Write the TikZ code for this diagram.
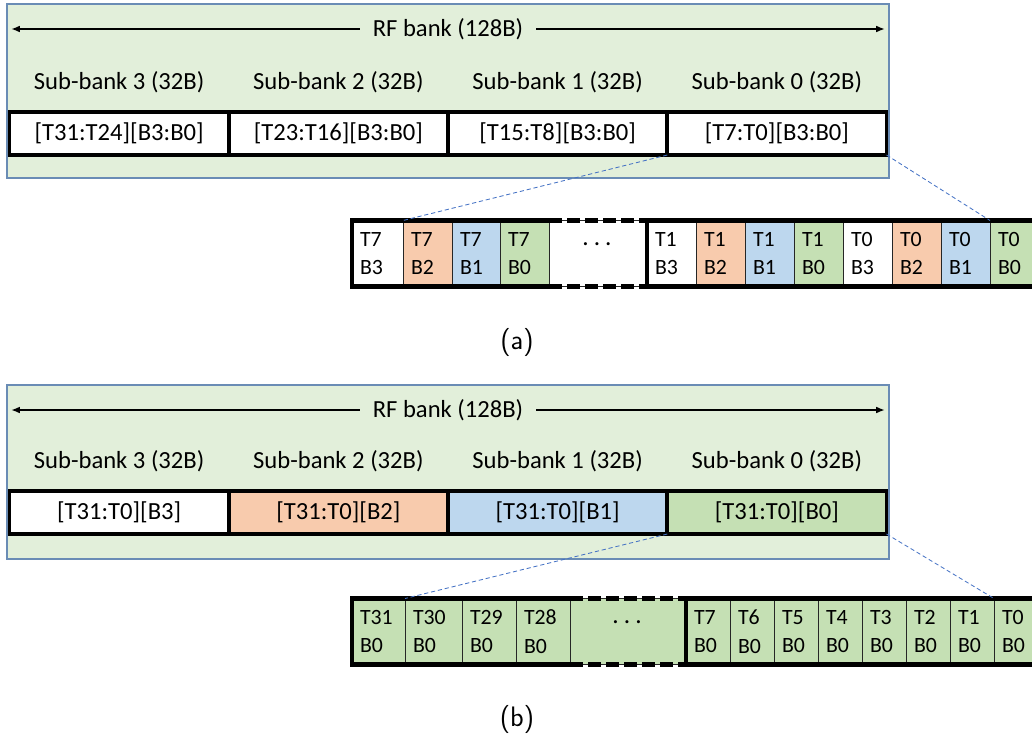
\documentclass[tikz,border=0pt]{standalone}
\usepackage{fontspec}
\setmainfont{Carlito}
\usetikzlibrary{positioning, arrows.meta}

\definecolor{bankgreen}{HTML}{E2EFDA}
\definecolor{panelline}{HTML}{6A8CB5}
\definecolor{cellorange}{HTML}{F8CBAD}
\definecolor{cellblue}{HTML}{BDD7EE}
\definecolor{cellgreen}{HTML}{C5E0B4}
\definecolor{zoomblue}{HTML}{4472C4}

\tikzset{
    panel/.style={draw=panelline, line width=0.8pt, fill=bankgreen},
    banktext/.style={font=\fontsize{17.5}{20}\selectfont, inner xsep=0.33cm, outer sep=0},
    bankarrow/.style={line width=1.4pt, -{Latex[length=0.22cm, width=0.17cm]}},
    sublabel/.style={font=\fontsize{17.5}{20}\selectfont},
    subbox/.style={draw, line width=2.8pt, minimum width=5.48cm, minimum height=1.075cm,
        inner sep=0, outer sep=0, anchor=north west, font=\fontsize{17.5}{20}\selectfont},
    cell/.style={draw=black!85, line width=0.6pt, minimum height=1.65cm, inner xsep=0.2cm,
        inner ysep=0, outer sep=0, anchor=north west, align=left,
        font=\fontsize{15.5}{20.5}\selectfont},
    frame/.style={line width=3pt},
    dashframe/.style={line width=3pt, dash pattern=on 0.33cm off 0.12cm},
    zoomline/.style={draw=zoomblue, line width=0.6pt, dash pattern=on 3pt off 2pt},
    caption/.style={font=\fontsize{20}{24}\sffamily}
}

\newcommand{\celldots}{\smash{\raisebox{0.2cm}{\fontsize{18}{20}\selectfont .\hspace{0.2em}.\hspace{0.2em}.}}}

\begin{document}
\begin{tikzpicture}[x=0.025cm, y=-0.025cm]
    \useasboundingbox (0,0) rectangle (1032,736);
    \clip (0,0) rectangle (1032,736);

    % (a) thread-major layout
    \draw[panel] (7,4) rectangle (889,178);
    \node[banktext] (rfa) at (448,29) {RF bank (128B)};
    \coordinate (rfaL) at (11,29);
    \coordinate (rfaR) at (885,29);
    \draw[bankarrow] (rfa) -- (rfaL);
    \draw[bankarrow] (rfa) -- (rfaR);

    \foreach \i/\txt in {3/{[T31:T24][B3:B0]}, 2/{[T23:T16][B3:B0]},
                         1/{[T15:T8][B3:B0]}, 0/{[T7:T0][B3:B0]}} {
        \pgfmathsetmacro\bx{9.5+(3-\i)*219.25}
        \node[subbox, fill=white] (sa\i) at (\bx,112) {\txt};
        \node[sublabel, above=0.56cm of sa\i, anchor=base] (la\i) {Sub-bank \i{} (32B)};
    }

    \foreach \nm/\xa/\xb/\col/\tn/\bn in {
        ca1/352/403/white/T7/B3, ca2/403/452/cellorange/T7/B2,
        ca3/452/500/cellblue/T7/B1, ca4/500/549/cellgreen/T7/B0,
        ca6/647/696/white/T1/B3, ca7/696/745/cellorange/T1/B2,
        ca8/745/794/cellblue/T1/B1, ca9/794/843/cellgreen/T1/B0,
        ca10/843/892/white/T0/B3, ca11/892/941/cellorange/T0/B2,
        ca12/941/990/cellblue/T0/B1, ca13/990/1039/cellgreen/T0/B0} {
        \pgfmathsetmacro\tw{(\xb-\xa)*0.025-0.4}
        \node[cell, fill=\col, text width=\tw cm] (\nm) at (\xa,220.5) {\tn\\\bn};
    }
    \node[cell, fill=white, text width=2cm, align=center] (ca5) at (549,220.5) {\celldots};

    \draw[frame] (ca4.north east) -- (ca1.north west) -- (ca1.south west) -- (ca4.south east);
    \draw[dashframe] (ca4.north east) -- (ca6.north west);
    \draw[dashframe] (ca4.south east) -- (ca6.south west);
    \draw[frame] (ca13.north east) -- (ca6.north west) -- (ca6.south west) -- (ca13.south east);

    \draw[zoomline] (sa0.south west) -- (ca2.north west);
    \draw[zoomline] (sa0.south east) -- (ca13.north west);

    \node[caption] (capa) at (517,342) {(a)};

    % (b) byte-major layout
    \draw[panel] (7,385) rectangle (889,559);
    \node[banktext] (rfb) at (448,410) {RF bank (128B)};
    \coordinate (rfbL) at (11,410);
    \coordinate (rfbR) at (885,410);
    \draw[bankarrow] (rfb) -- (rfbL);
    \draw[bankarrow] (rfb) -- (rfbR);

    \foreach \i/\col/\txt in {3/white/{[T31:T0][B3]}, 2/cellorange/{[T31:T0][B2]},
                              1/cellblue/{[T31:T0][B1]}, 0/cellgreen/{[T31:T0][B0]}} {
        \pgfmathsetmacro\bx{9.5+(3-\i)*219.25}
        \node[subbox, fill=\col] (sb\i) at (\bx,491) {\txt};
        \node[sublabel, above=0.56cm of sb\i, anchor=base] (lb\i) {Sub-bank \i{} (32B)};
    }

    \foreach \nm/\xa/\xb/\tn in {
        cb1/352/405/T31, cb2/405/462/T30, cb3/462/516/T29, cb4/516/570/T28,
        cb6/686/730/T7, cb7/730/774/T6, cb8/774/818/T5, cb9/818/862/T4,
        cb10/862/906/T3, cb11/906/950/T2, cb12/950/994/T1, cb13/994/1038/T0} {
        \pgfmathsetmacro\tw{(\xb-\xa)*0.025-0.4}
        \node[cell, fill=cellgreen, text width=\tw cm] (\nm) at (\xa,598.5) {\tn\\B0};
    }
    \node[cell, fill=cellgreen, text width=2.45cm, align=center] (cb5) at (570,598.5) {\celldots};

    \draw[frame] (cb4.north east) -- (cb1.north west) -- (cb1.south west) -- (cb4.south east);
    \draw[dashframe] (cb4.north east) -- (cb6.north west);
    \draw[dashframe] (cb4.south east) -- (cb6.south west);
    \draw[frame] (cb13.north east) -- (cb6.north west) -- (cb6.south west) -- (cb13.south east);

    \draw[zoomline] (sb0.south west) -- (cb2.north west);
    \draw[zoomline] (sb0.south east) -- (cb13.north west);

    \node[caption] (capb) at (517,719) {(b)};
\end{tikzpicture}
\end{document}
